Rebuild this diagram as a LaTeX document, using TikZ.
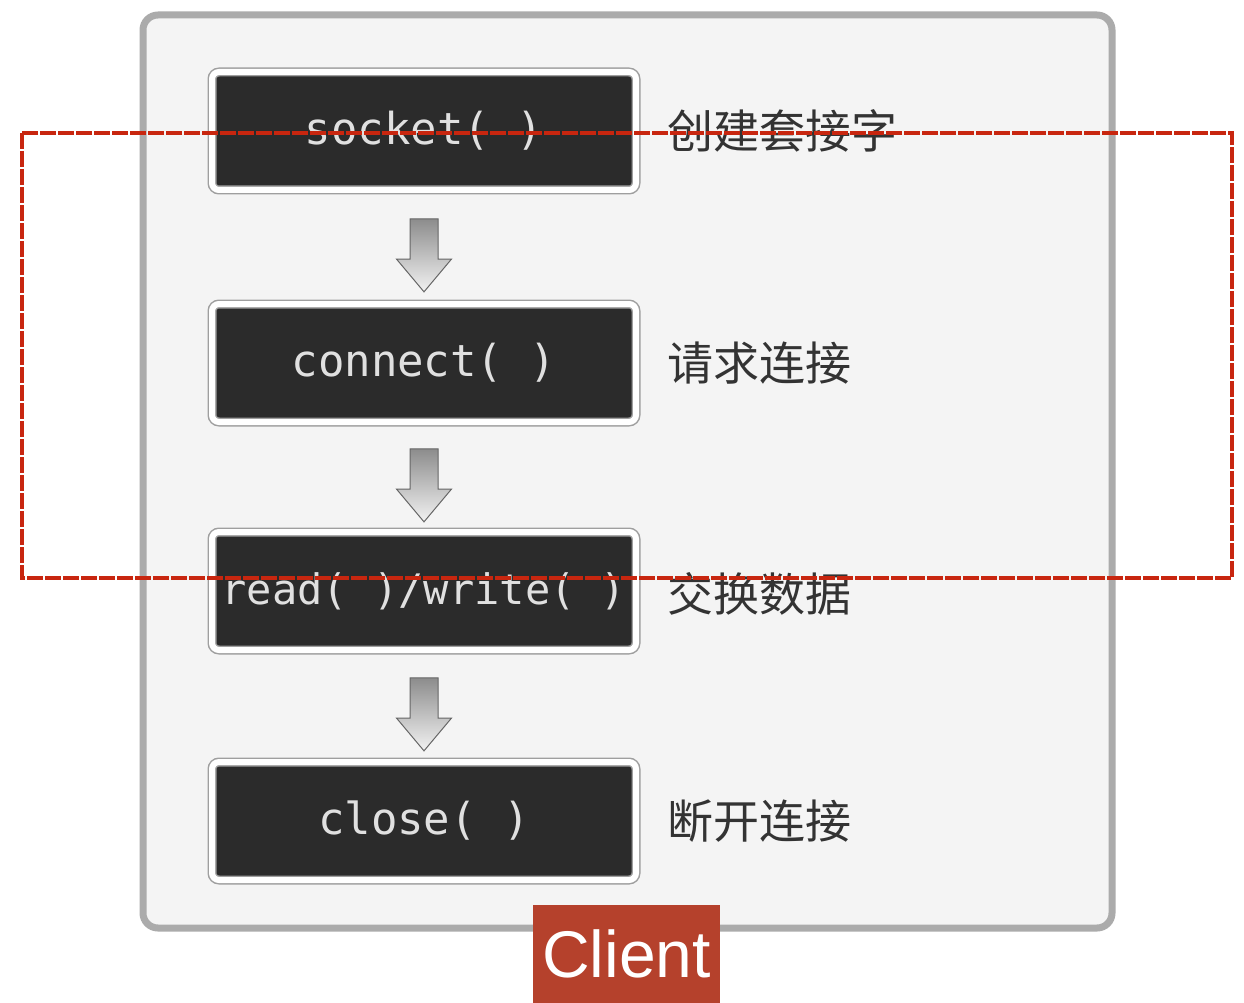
\documentclass[tikz,border=0pt]{standalone}
\usepackage{fontspec}
\setmonofont{DejaVu Sans Mono}
\newfontfamily\cjk{Noto Sans CJK SC}
\newfontfamily\clientfont{Liberation Sans}
\usetikzlibrary{shapes.arrows,calc}
\definecolor{panelgray}{HTML}{ABABAB}
\definecolor{panelfill}{HTML}{F4F4F4}
\definecolor{boxdark}{HTML}{2B2B2B}
\definecolor{markred}{HTML}{C8260F}
\definecolor{clientred}{HTML}{B5412C}
\begin{document}
\begin{tikzpicture}[
      x=1pt,
      y=-1pt,
      call/.style={draw=gray!75, double=white, double distance=6pt, line width=1.5pt,
        fill=boxdark, rounded corners=7pt, minimum width=424pt, minimum height=118pt,
        text=white!88!black, font=\ttfamily\fontsize{44}{48}\selectfont},
      note/.style={anchor=west, text=black!80, font=\cjk\fontsize{46}{50}\selectfont},
      downarrow/.style={single arrow, rotate=-90, draw=gray!80!black, line width=1pt,
        top color=gray!90, bottom color=gray!10, inner xsep=0pt, inner ysep=13.5pt,
        single arrow head extend=13.5pt, single arrow tip angle=80,
        minimum height=73pt, minimum width=54pt}]
    \useasboundingbox (0,0) rectangle (1244,1003);
    \fill [white] (0,0) rectangle (1244,1003);

    % panel
    \draw [panelgray, line width=7pt, fill=panelfill, rounded corners=15pt]
      (143,15) rectangle (1112,928);

    \node [call] (b1) at (424, 131) {socket( )};
    \node [call] (b2) at (424, 363) {connect( )};
    \node [call, font=\ttfamily\fontsize{42}{46}\selectfont] (b3) at (424, 591) {read( )/write( )};
    \node [call] (b4) at (424, 821) {close( )};

    \node [note] (n1) at (664, 131) {创建套接字};
    \node [note] (n2) at (664, 363) {请求连接};
    \node [note] (n3) at (664, 594) {交换数据};
    \node [note] (n4) at (664, 821) {断开连接};

    \node [downarrow] (a1) at ($(b1.south)!0.5!(b2.north)$) {};
    \node [downarrow] (a2) at ($(b2.south)!0.5!(b3.north)$) {};
    \node [downarrow] (a3) at ($(b3.south)!0.5!(b4.north)$) {};

    \node [fill=clientred, text=white, minimum width=187pt, minimum height=98pt,
      font=\clientfont\fontsize{66}{70}\selectfont] (client) at (626.5, 954) {Client};

    % highlight
    \draw [markred, line width=4.5pt, dash pattern=on 16pt off 2pt]
      (22,133) rectangle (1232,578);

  \end{tikzpicture}
\end{document}
